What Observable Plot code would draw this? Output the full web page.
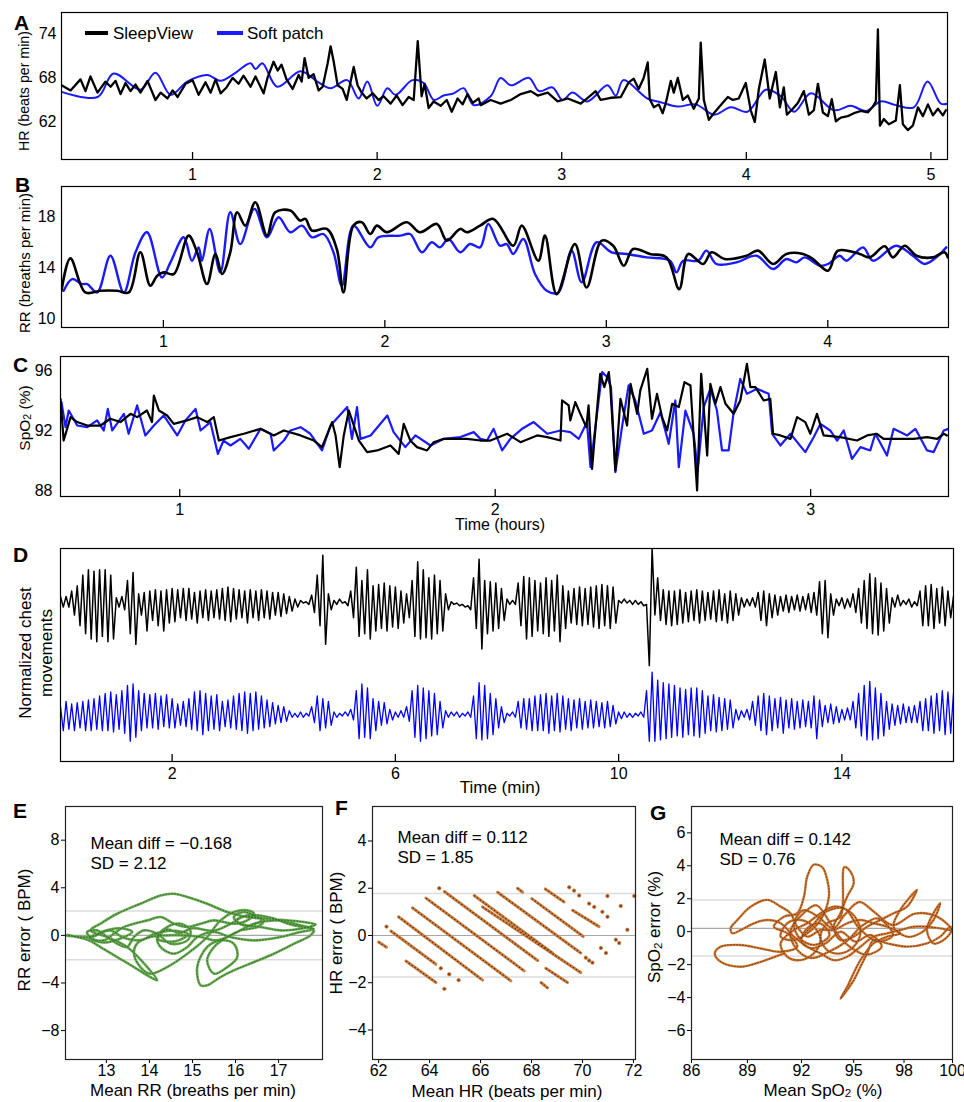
<!DOCTYPE html>
<html><head><meta charset="utf-8">
<script src="https://cdn.jsdelivr.net/npm/d3@7"></script>
<script src="https://cdn.jsdelivr.net/npm/@observablehq/plot@0.6"></script>
<style>
body{margin:0;background:#fff;font-family:"Liberation Sans",Arial,Helvetica,sans-serif;color:#000;}
#root{position:relative;width:964px;height:1102px;overflow:hidden;background:#fff;}
.pn{position:absolute;}
.t{position:absolute;white-space:nowrap;line-height:1;}
.rot{position:absolute;white-space:nowrap;line-height:1.25;text-align:center;transform:translate(-50%,-50%) rotate(-90deg);}
.ctr{position:absolute;white-space:nowrap;line-height:1;transform:translate(-50%,-50%);}
.sw{position:absolute;height:4px;}
.sub{font-size:0.68em;vertical-align:-0.1em;}
</style></head><body><div id="root"></div>
<script>
// ---------------- DATA ----------------
// Panel A: heart rate (hours, beats per min)
const hrSleepView = [[0.290,67.0],[0.339,66.3],[0.393,67.8],[0.420,66.2],[0.447,68.2],[0.485,66.0],[0.528,67.5],[0.556,66.8],[0.583,67.6],[0.610,65.8],[0.637,67.3],[0.664,66.2],[0.691,67.1],[0.718,66.0],[0.756,67.6],[0.799,65.0],[0.827,66.0],[0.864,65.2],[0.892,66.3],[0.919,65.4],[0.962,67.2],[1.000,67.7],[1.033,65.7],[1.070,67.4],[1.098,66.0],[1.125,67.8],[1.152,65.9],[1.184,66.7],[1.217,68.0],[1.249,67.2],[1.276,68.3],[1.314,66.8],[1.341,68.2],[1.385,65.9],[1.406,68.0],[1.439,70.2],[1.461,69.0],[1.482,69.8],[1.509,67.8],[1.542,66.5],[1.575,68.4],[1.591,67.5],[1.607,70.7],[1.629,68.0],[1.656,68.5],[1.683,66.3],[1.705,66.8],[1.732,70.0],[1.748,72.3],[1.764,70.3],[1.786,67.0],[1.813,66.5],[1.835,65.0],[1.873,69.5],[1.894,67.0],[1.916,66.0],[1.943,65.2],[1.976,65.9],[2.008,65.0],[2.035,65.5],[2.073,64.5],[2.106,65.6],[2.138,64.3],[2.171,65.4],[2.198,65.0],[2.220,73.0],[2.241,65.5],[2.257,67.2],[2.279,63.9],[2.306,64.8],[2.344,64.2],[2.377,65.0],[2.404,63.4],[2.436,65.2],[2.463,64.4],[2.490,65.8],[2.518,64.6],[2.550,65.2],[2.561,64.3],[2.615,65.0],[2.669,64.5],[2.724,65.0],[2.778,65.8],[2.832,66.2],[2.870,65.6],[2.924,66.0],[2.978,64.8],[3.033,65.2],[3.103,64.5],[3.141,65.3],[3.184,66.2],[3.211,65.0],[3.266,65.3],[3.320,65.4],[3.363,67.4],[3.390,67.9],[3.417,66.5],[3.444,68.0],[3.466,70.1],[3.477,65.1],[3.499,64.0],[3.526,64.4],[3.547,63.2],[3.564,64.6],[3.591,67.6],[3.607,66.0],[3.629,68.0],[3.656,65.0],[3.683,65.6],[3.715,63.8],[3.743,65.2],[3.753,72.8],[3.770,65.0],[3.797,62.3],[3.824,63.2],[3.862,64.3],[3.900,65.4],[3.927,65.0],[3.959,65.2],[3.997,67.3],[4.024,63.6],[4.046,62.0],[4.068,66.5],[4.100,70.5],[4.127,65.2],[4.160,68.8],[4.182,64.0],[4.203,66.7],[4.220,63.0],[4.252,63.8],[4.279,64.6],[4.312,66.2],[4.339,63.0],[4.366,63.6],[4.388,67.2],[4.415,63.3],[4.442,62.8],[4.463,65.1],[4.485,62.1],[4.512,62.6],[4.550,62.8],[4.583,63.2],[4.621,63.5],[4.658,63.3],[4.686,64.1],[4.702,64.8],[4.713,74.6],[4.724,61.5],[4.745,62.4],[4.772,61.7],[4.810,62.2],[4.832,67.0],[4.848,61.7],[4.875,60.9],[4.902,61.5],[4.930,64.0],[4.957,62.8],[4.984,64.4],[5.011,62.9],[5.038,63.8],[5.065,62.9],[5.081,63.6]];
const hrSoftPatch = [[0.290,66.1],[0.486,65.4],[0.572,68.6],[0.718,66.4],[0.799,68.7],[0.881,65.7],[0.971,67.5],[1.080,68.4],[1.152,67.6],[1.222,68.5],[1.314,70.0],[1.341,69.2],[1.378,70.0],[1.459,66.8],[1.585,68.9],[1.676,67.5],[1.748,66.6],[1.838,67.7],[1.900,65.2],[1.947,67.5],[2.001,64.2],[2.055,66.6],[2.100,65.7],[2.191,67.7],[2.252,67.3],[2.308,65.0],[2.360,65.6],[2.415,65.9],[2.469,66.6],[2.523,64.3],[2.615,65.5],[2.669,68.0],[2.724,67.0],[2.823,68.0],[2.877,66.2],[2.950,66.7],[3.004,65.0],[3.058,66.0],[3.139,64.8],[3.248,67.0],[3.293,65.6],[3.334,67.7],[3.464,65.2],[3.536,64.7],[3.627,64.1],[3.726,64.4],[3.825,63.0],[3.916,64.0],[4.006,63.4],[4.106,66.4],[4.187,65.5],[4.259,63.4],[4.350,65.9],[4.476,63.6],[4.566,64.2],[4.648,63.5],[4.729,64.8],[4.810,64.3],[4.908,64.0],[4.982,67.5],[5.054,64.5],[5.092,64.5]];
const hrTicksX = [1,2,3,4,5];
const hrTicksY = [62,68,74];

// Panel B: respiration rate (hours, breaths per min)
const rrSleepView = [[0.540,12.21],[0.580,14.76],[0.648,12.08],[0.716,12.21],[0.791,12.21],[0.844,12.08],[0.896,15.24],[0.941,12.61],[0.972,13.39],[1.001,13.66],[1.047,13.53],[1.114,16.55],[1.152,15.24],[1.197,12.74],[1.235,15.11],[1.265,13.53],[1.302,15.24],[1.333,18.39],[1.370,17.34],[1.415,19.18],[1.468,16.55],[1.505,18.39],[1.573,18.53],[1.618,17.74],[1.641,17.87],[1.671,16.95],[1.738,17.08],[1.783,15.5],[1.813,12.08],[1.858,17.34],[1.896,17.61],[1.934,16.68],[1.964,17.34],[2.009,16.82],[2.099,17.61],[2.159,16.82],[2.235,17.47],[2.280,16.16],[2.340,17.08],[2.370,16.82],[2.430,17.34],[2.490,17.87],[2.580,15.76],[2.618,17.34],[2.693,14.58],[2.723,16.55],[2.776,11.95],[2.858,15.89],[2.911,12.47],[2.979,16.16],[3.031,15.76],[3.079,14.18],[3.121,15.5],[3.197,15.11],[3.272,14.84],[3.329,12.34],[3.370,15.11],[3.437,14.32],[3.475,15.24],[3.535,14.71],[3.633,14.97],[3.685,15.37],[3.753,14.32],[3.813,15.11],[3.888,15.11],[3.933,14.71],[4.001,13.79],[4.046,15.37],[4.144,15.11],[4.189,14.84],[4.257,15.71],[4.294,14.84],[4.347,15.76],[4.400,14.97],[4.475,14.84],[4.527,15.24],[4.542,14.84]];
const rrSoftPatch = [[0.550,12.21],[0.588,13.13],[0.633,12.74],[0.656,12.74],[0.701,12.08],[0.761,14.97],[0.821,12.08],[0.874,15.24],[0.926,16.82],[0.994,13.26],[1.032,14.45],[1.092,16.42],[1.129,14.58],[1.159,15.63],[1.174,14.58],[1.209,17.08],[1.257,13.66],[1.302,18.39],[1.347,15.89],[1.411,18.66],[1.468,16.42],[1.520,18.0],[1.573,16.82],[1.626,17.34],[1.671,16.42],[1.723,16.68],[1.768,15.24],[1.806,12.61],[1.858,17.34],[1.934,15.63],[1.971,16.42],[2.069,16.55],[2.114,16.68],[2.167,15.24],[2.212,16.03],[2.249,15.63],[2.287,16.29],[2.340,15.24],[2.385,15.89],[2.430,15.63],[2.467,17.47],[2.520,15.76],[2.550,15.89],[2.580,15.11],[2.625,16.29],[2.678,13.53],[2.731,12.21],[2.783,12.08],[2.843,15.37],[2.889,12.87],[2.956,16.03],[3.024,15.24],[3.092,15.11],[3.182,14.84],[3.287,14.58],[3.317,13.66],[3.347,14.58],[3.415,14.58],[3.452,15.37],[3.497,14.32],[3.588,14.45],[3.678,14.97],[3.753,13.92],[3.813,14.71],[3.858,14.45],[3.896,14.84],[3.964,14.18],[4.001,14.32],[4.054,14.97],[4.084,14.58],[4.159,15.63],[4.204,14.58],[4.309,15.76],[4.384,14.97],[4.437,14.32],[4.490,14.84],[4.535,15.63]];
const rrTicksX = [1,2,3,4];
const rrTicksY = [10,14,18];

// Panel C: SpO2 (hours, %)
const spoSleepView = [[0.622,94.11],[0.632,91.33],[0.654,92.89],[0.675,92.56],[0.707,92.33],[0.749,92.33],[0.780,92.78],[0.812,92.56],[0.844,93.11],[0.865,92.89],[0.896,93.33],[0.912,92.56],[0.918,94.33],[0.934,93.33],[0.960,93.0],[0.981,92.44],[1.023,92.67],[1.055,92.89],[1.087,92.56],[1.108,92.89],[1.124,91.33],[1.161,91.56],[1.203,91.78],[1.256,92.11],[1.298,91.67],[1.330,92.0],[1.383,91.67],[1.425,91.33],[1.451,90.89],[1.483,92.56],[1.494,91.67],[1.507,89.56],[1.520,91.67],[1.536,93.33],[1.552,92.33],[1.568,91.33],[1.594,90.56],[1.626,90.67],[1.668,91.0],[1.694,90.44],[1.710,92.44],[1.731,91.33],[1.752,90.89],[1.784,90.67],[1.805,91.22],[1.837,91.44],[1.869,91.44],[1.911,91.44],[1.953,91.33],[1.985,91.33],[2.038,91.78],[2.080,91.22],[2.133,91.67],[2.165,91.56],[2.207,91.33],[2.212,94.0],[2.233,93.67],[2.238,92.67],[2.254,93.89],[2.270,93.11],[2.289,92.22],[2.296,93.67],[2.307,89.44],[2.323,93.44],[2.333,95.78],[2.346,94.89],[2.360,95.89],[2.365,94.89],[2.381,89.33],[2.397,94.11],[2.418,92.33],[2.429,95.11],[2.450,93.11],[2.460,94.67],[2.482,96.11],[2.497,92.78],[2.513,94.44],[2.529,92.89],[2.545,92.0],[2.561,93.78],[2.582,93.56],[2.600,95.22],[2.619,95.0],[2.640,88.0],[2.653,95.78],[2.672,90.33],[2.682,95.11],[2.698,93.78],[2.714,94.89],[2.730,93.78],[2.756,93.11],[2.777,94.0],[2.798,96.44],[2.809,94.89],[2.825,94.89],[2.851,94.0],[2.872,94.11],[2.881,91.78],[2.904,91.67],[2.936,91.44],[2.957,92.89],[2.983,92.56],[2.999,91.78],[3.020,93.11],[3.041,91.67],[3.094,91.56],[3.147,91.33],[3.179,91.67],[3.210,91.78],[3.231,91.44],[3.274,91.44],[3.327,91.44],[3.369,91.56],[3.401,91.44],[3.422,91.78],[3.432,91.67]];
const spoSoftPatch = [[0.625,93.89],[0.638,92.22],[0.648,93.33],[0.675,92.33],[0.707,92.22],[0.738,92.67],[0.759,92.0],[0.772,93.44],[0.786,92.0],[0.823,93.11],[0.838,91.78],[0.865,93.67],[0.891,91.67],[0.918,92.33],[0.949,93.0],[0.992,91.67],[1.018,92.67],[1.050,93.44],[1.066,92.0],[1.097,92.56],[1.121,90.44],[1.139,91.33],[1.161,91.0],[1.192,91.44],[1.219,90.78],[1.256,92.11],[1.288,91.78],[1.298,90.67],[1.330,91.33],[1.351,92.0],[1.383,92.22],[1.414,91.78],[1.451,90.67],[1.478,92.33],[1.531,93.56],[1.546,91.44],[1.562,93.56],[1.573,91.44],[1.605,91.67],[1.658,93.0],[1.678,91.89],[1.715,90.89],[1.747,91.67],[1.795,91.0],[1.837,91.44],[1.890,91.56],[1.932,91.89],[1.953,91.44],[1.974,91.33],[1.995,92.11],[2.022,90.67],[2.048,91.44],[2.085,92.11],[2.122,92.56],[2.165,91.78],[2.207,92.0],[2.238,91.89],[2.265,91.44],[2.291,92.56],[2.302,89.56],[2.339,95.89],[2.355,95.56],[2.367,94.89],[2.381,89.22],[2.402,92.22],[2.423,95.0],[2.444,94.0],[2.471,91.78],[2.497,92.0],[2.524,93.22],[2.550,91.11],[2.571,94.0],[2.582,89.56],[2.603,93.33],[2.629,91.78],[2.642,89.33],[2.661,93.56],[2.682,94.78],[2.703,93.33],[2.719,90.67],[2.740,90.67],[2.756,93.22],[2.777,95.44],[2.798,94.44],[2.830,94.78],[2.867,94.44],[2.878,91.78],[2.904,91.0],[2.936,91.78],[2.983,90.56],[3.010,91.56],[3.031,92.44],[3.062,92.0],[3.084,91.33],[3.105,92.0],[3.131,90.11],[3.158,90.89],[3.189,90.67],[3.205,91.78],[3.242,90.33],[3.263,92.11],[3.306,91.67],[3.332,92.11],[3.369,90.67],[3.390,90.56],[3.422,92.0],[3.437,92.11]];
const spoTicksX = [1,2,3];
const spoTicksY = [88,92,96];

// Panel D: chest movement envelopes per 0.1 min [time (min), peak, trough]
const chestSleepView = [[0,0.2,-0.2],[0.1,0.2,-0.2],[0.2,0.4,-0.5],[0.3,0.6,-0.9],[0.4,1.0,-1.2],[0.5,1.2,-1.4],[0.6,1.15,-1.5],[0.7,1.2,-1.3],[0.8,1.2,-1.5],[0.9,1.0,-1.4],[1.0,0.15,-0.2],[1.1,0.2,-0.3],[1.2,0.8,-1.2],[1.3,1.1,-1.6],[1.4,0.3,-0.5],[1.5,0.35,-1.1],[1.6,0.4,-0.7],[1.7,0.45,-0.9],[1.8,0.4,-1.1],[1.9,0.45,-0.8],[2.0,0.5,-0.75],[2.1,0.45,-0.6],[2.2,0.5,-0.7],[2.3,0.5,-0.65],[2.4,0.35,-0.8],[2.5,0.4,-0.6],[2.6,0.45,-0.7],[2.7,0.4,-0.6],[2.8,0.45,-0.65],[2.9,0.5,-0.7],[3.0,0.55,-0.75],[3.1,0.5,-0.65],[3.2,0.45,-0.6],[3.3,0.4,-0.8],[3.4,0.45,-0.6],[3.5,0.4,-0.7],[3.6,0.45,-0.6],[3.7,0.4,-0.65],[3.8,0.35,-0.5],[3.9,0.35,-0.55],[4.0,0.3,-0.45],[4.1,0.2,-0.35],[4.2,0.1,-0.2],[4.3,0.05,-0.05],[4.4,0.0,-0.1],[4.5,0.25,-0.4],[4.6,1.0,-0.9],[4.7,1.75,-1.6],[4.8,0.3,-0.3],[4.9,0.05,-0.1],[5.0,0.1,-0.05],[5.1,0.0,-0.15],[5.2,0.4,-0.6],[5.3,1.3,-1.3],[5.4,0.8,-1.2],[5.5,1.2,-1.4],[5.6,0.6,-1.1],[5.7,0.65,-1.0],[5.8,0.7,-1.1],[5.9,0.6,-0.95],[6.0,0.55,-1.0],[6.1,0.4,-0.8],[6.2,0.3,-0.6],[6.3,0.8,-1.3],[6.4,1.5,-1.4],[6.5,1.2,-1.35],[6.6,0.9,-1.4],[6.7,1.0,-1.2],[6.8,0.8,-1.1],[6.9,0.3,-0.3],[7.0,0.0,-0.1],[7.1,-0.05,-0.15],[7.2,-0.1,-0.2],[7.3,-0.15,-0.3],[7.4,0.9,-1.0],[7.5,1.6,-1.77],[7.6,0.8,-1.2],[7.7,0.75,-1.1],[7.8,0.7,-1.0],[7.9,0.5,-0.7],[8.0,0.1,-0.1],[8.1,0.05,-0.1],[8.2,0.7,-0.9],[8.3,0.95,-1.4],[8.4,0.9,-1.3],[8.5,0.8,-1.1],[8.6,0.7,-1.2],[8.7,0.9,-1.3],[8.8,0.8,-1.1],[8.9,1.0,-1.5],[9.0,0.6,-1.0],[9.1,0.4,-0.8],[9.2,0.5,-0.85],[9.3,0.55,-0.9],[9.4,0.5,-0.85],[9.5,0.55,-0.95],[9.6,0.6,-1.0],[9.7,0.65,-0.9],[9.8,0.6,-1.0],[9.9,0.55,-0.8],[10.0,0.05,-0.05],[10.1,0.1,-0.05],[10.2,0.05,-0.1],[10.3,0.05,-0.1],[10.4,0.0,-0.15],[10.5,-0.1,-2.4],[10.6,2.0,-0.5],[10.7,0.9,-0.7],[10.8,0.45,-0.85],[10.9,0.4,-0.9],[11.0,0.4,-0.85],[11.1,0.45,-0.8],[11.2,0.35,-0.75],[11.3,0.4,-0.7],[11.4,0.45,-0.8],[11.5,0.4,-0.7],[11.6,0.35,-0.65],[11.7,0.4,-0.75],[11.8,0.45,-0.7],[11.9,0.3,-0.8],[12.0,0.4,-0.7],[12.1,0.3,-0.5],[12.2,0.15,-0.2],[12.3,0.1,-0.15],[12.4,0.15,-0.2],[12.5,0.35,-0.7],[12.6,0.4,-0.9],[12.7,0.3,-0.6],[12.8,0.25,-0.5],[12.9,0.2,-0.35],[13.0,0.25,-0.4],[13.1,0.2,-0.3],[13.2,0.25,-0.35],[13.3,0.2,-0.3],[13.4,0.3,-0.4],[13.5,0.35,-0.5],[13.6,0.75,-1.2],[13.7,0.8,-1.35],[13.8,0.3,-0.5],[13.9,0.1,-0.15],[14.0,0.15,-0.25],[14.1,0.1,-0.2],[14.2,0.3,-0.4],[14.3,0.5,-0.8],[14.4,0.8,-1.0],[14.5,1.05,-1.2],[14.6,0.9,-1.25],[14.7,0.7,-1.1],[14.8,0.5,-0.8],[14.9,0.15,-0.2],[15.0,0.25,-0.15],[15.1,0.05,-0.1],[15.2,0.1,-0.2],[15.3,0.0,-0.15],[15.4,0.4,-0.9],[15.5,0.6,-0.9],[15.6,0.65,-1.0],[15.7,0.5,-0.8],[15.8,0.55,-0.9],[15.9,0.4,-0.6],[16.0,0.2,-0.3]];
const chestSoftPatch = [[0,0.3,-0.6],[0.1,0.5,-0.55],[0.2,0.4,-0.6],[0.3,0.45,-0.5],[0.4,0.5,-0.6],[0.5,0.55,-0.6],[0.6,0.6,-0.55],[0.7,0.7,-0.6],[0.8,0.8,-0.6],[0.9,0.85,-0.65],[1.0,0.75,-0.55],[1.1,0.9,-0.7],[1.2,1.1,-1.0],[1.3,1.15,-0.85],[1.4,0.9,-0.6],[1.5,0.8,-0.5],[1.6,0.75,-0.5],[1.7,0.8,-0.55],[1.8,0.7,-0.45],[1.9,0.75,-0.5],[2.0,0.6,-0.5],[2.1,0.4,-0.4],[2.2,0.5,-0.45],[2.3,0.6,-0.55],[2.4,0.85,-0.6],[2.5,0.9,-0.75],[2.6,0.8,-0.6],[2.7,0.7,-0.55],[2.8,0.75,-0.6],[2.9,0.5,-0.45],[3.0,0.55,-0.5],[3.1,0.7,-0.55],[3.2,0.8,-0.6],[3.3,0.85,-0.7],[3.4,0.8,-0.6],[3.5,0.85,-0.55],[3.6,0.7,-0.5],[3.7,0.55,-0.45],[3.8,0.45,-0.35],[3.9,0.35,-0.3],[4.0,0.3,-0.25],[4.1,0.15,-0.1],[4.2,0.05,-0.1],[4.3,0.1,-0.1],[4.4,0.05,-0.05],[4.5,0.3,-0.3],[4.6,0.7,-0.6],[4.7,0.6,-0.5],[4.8,0.5,-0.4],[4.9,0.1,-0.1],[5.0,0.05,-0.05],[5.1,0.1,-0.05],[5.2,0.2,-0.2],[5.3,0.9,-0.9],[5.4,1.15,-0.85],[5.5,1.0,-0.9],[5.6,0.6,-0.6],[5.7,0.5,-0.4],[5.8,0.45,-0.35],[5.9,0.2,-0.2],[6.0,0.1,-0.1],[6.1,0.15,-0.1],[6.2,0.3,-0.25],[6.3,0.9,-0.85],[6.4,1.1,-1.0],[6.5,1.0,-0.9],[6.6,0.9,-0.8],[6.7,0.8,-0.75],[6.8,0.5,-0.5],[6.9,0.15,-0.1],[7.0,0.1,-0.05],[7.1,0.1,-0.1],[7.2,0.05,-0.05],[7.3,0.1,-0.1],[7.4,0.7,-0.9],[7.5,1.2,-0.95],[7.6,1.1,-0.9],[7.7,0.8,-0.75],[7.8,0.6,-0.5],[7.9,0.3,-0.3],[8.0,0.05,-0.05],[8.1,0.1,-0.1],[8.2,0.5,-0.5],[8.3,0.6,-0.55],[8.4,0.6,-0.6],[8.5,0.7,-0.6],[8.6,0.75,-0.6],[8.7,0.8,-0.7],[8.8,0.7,-0.6],[8.9,0.8,-0.65],[9.0,0.7,-0.55],[9.1,0.6,-0.6],[9.2,0.55,-0.5],[9.3,0.6,-0.55],[9.4,0.5,-0.5],[9.5,0.55,-0.5],[9.6,0.5,-0.45],[9.7,0.45,-0.5],[9.8,0.5,-0.45],[9.9,0.35,-0.35],[10.0,0.1,-0.15],[10.1,0.1,-0.1],[10.2,0.05,-0.1],[10.3,0.05,-0.05],[10.4,0.1,-0.1],[10.5,0.9,-1.0],[10.6,1.6,-1.0],[10.7,1.3,-0.95],[10.8,1.2,-0.9],[10.9,1.15,-0.85],[11.0,1.1,-0.8],[11.1,1.0,-0.85],[11.2,0.95,-0.75],[11.3,1.0,-0.8],[11.4,1.0,-0.85],[11.5,0.9,-0.7],[11.6,0.7,-0.6],[11.7,0.75,-0.65],[11.8,0.65,-0.6],[11.9,0.6,-0.55],[12.0,0.55,-0.5],[12.1,0.2,-0.2],[12.2,0.15,-0.1],[12.3,0.2,-0.2],[12.4,0.5,-0.4],[12.5,0.7,-0.6],[12.6,0.8,-0.75],[12.7,0.7,-0.6],[12.8,0.6,-0.5],[12.9,0.65,-0.7],[13.0,0.55,-0.5],[13.1,0.6,-0.55],[13.2,0.5,-0.5],[13.3,0.55,-0.45],[13.4,0.5,-0.5],[13.5,0.7,-0.9],[13.6,0.55,-0.45],[13.7,0.35,-0.3],[13.8,0.4,-0.35],[13.9,0.3,-0.3],[14.0,0.2,-0.2],[14.1,0.25,-0.2],[14.2,0.5,-0.5],[14.3,0.8,-0.8],[14.4,1.1,-0.95],[14.5,1.25,-0.95],[14.6,1.0,-0.9],[14.7,0.8,-0.8],[14.8,0.5,-0.55],[14.9,0.4,-0.4],[15.0,0.35,-0.35],[15.1,0.4,-0.3],[15.2,0.3,-0.3],[15.3,0.35,-0.3],[15.4,0.5,-0.6],[15.5,0.6,-0.6],[15.6,0.7,-0.7],[15.7,0.8,-0.6],[15.8,0.9,-0.75],[15.9,0.85,-0.7],[16.0,0.8,-0.6]];
const chestTicksX = [2,6,10,14];

// Panel E: Bland-Altman RR (mean, error) trace
const baRR = [[12.05,0],[12.32,-0.14],[12.59,-0.42],[12.86,-0.98],[13.25,-1.82],[13.64,-2.66],[13.95,-3.36],[14.18,-3.78],[13.95,-2.66],[13.48,-0.98],[13.02,-0.14],[12.63,0.42],[12.86,0.98],[13.25,1.82],[13.79,2.66],[14.26,3.36],[14.57,3.5],[14.88,3.22],[15.34,2.66],[15.81,1.96],[16.27,1.54],[16.74,1.40],[17.20,1.26],[17.59,1.12],[17.86,0.92],[17.51,0.56],[17.05,0.42],[16.58,0.70],[16.12,0.98],[15.96,1.54],[16.19,1.96],[16.43,1.68],[16.66,1.26],[16.50,0.70],[16.12,0.42],[15.81,-0.14],[15.50,-0.98],[15.34,-2.10],[15.50,-3.22],[15.81,-2.66],[16.04,-1.82],[15.96,-0.70],[15.65,-0.42],[15.34,-0.98],[15.11,-2.66],[15.19,-4.20],[15.34,-4.20],[15.65,-3.50],[15.96,-2.94],[16.43,-2.24],[16.89,-1.54],[17.36,-0.70],[17.74,0],[17.82,0.42],[17.51,0.28],[17.05,-0.14],[16.43,-0.42],[15.88,-0.14],[15.50,0.28],[15.11,-0.14],[14.88,-0.98],[14.57,-1.54],[14.26,-0.98],[14.18,-0.14],[14.41,0.70],[14.72,0.98],[14.95,0.42],[14.88,-0.42],[14.49,-0.70],[14.18,0.14],[13.87,0.42],[13.64,-0.14],[13.48,-0.98],[13.25,-0.70],[13.02,-0.14],[12.78,0.42],[12.55,0.28],[12.67,-0.28],[12.94,-0.42],[13.17,0.14],[13.40,0.70],[13.64,0.98],[13.95,1.26],[14.26,1.54],[14.57,0.98],[14.88,0.70],[15.19,0.98],[15.50,1.26],[15.96,0.98],[16.27,1.26],[16.43,1.82],[16.27,2.10],[15.96,1.96],[15.65,1.26],[15.34,-0.14],[14.88,-1.54],[14.41,-2.66],[14.02,-3.22],[13.79,-2.66],[13.64,-1.54],[13.71,-0.70],[14.02,-0.14],[14.41,0],[14.80,0],[15.19,-0.14],[15.57,-0.42],[15.96,0.14],[16.43,0.98],[16.97,1.26],[17.51,0.84],[17.82,0.56],[17.3,0.9],[16.8,1.5],[16.3,1.7],[16.0,1.2],[16.3,0.8],[16.6,1.3],[16.2,1.6],[15.9,1.0],[15.5,0.4],[15.0,0.6],[14.7,0.2],[14.4,0.5],[14.2,-0.3],[14.6,-0.5],[14.9,0.1],[14.5,0.4],[14.1,0.1],[13.8,-0.4],[13.4,-0.2],[13.1,0.4],[12.8,0.1],[12.6,-0.2],[12.9,-0.6],[13.3,-0.3],[13.6,0.3],[13.3,0.6],[12.9,0.3],[12.7,-0.1],[12.3,-0.1],[12.1,0.05]];
const baRRLimits = [2.04, -2.04];
const baRRMean = [0];
const baRRText = "Mean diff = −0.168\nSD = 2.12";

// Panel F: Bland-Altman HR segments [x1,y1,x2,y2] and isolated points
const baHRSegments = [[62.00,-0.28,62.31,-0.50],[62.48,0.19,64.25,-1.22],[62.78,0.79,66.08,-1.89],[63.07,-1.08,64.25,-1.99],[63.33,1.17,67.19,-1.92],[63.86,1.58,67.71,-1.50],[64.58,1.86,68.24,-1.06],[65.75,1.69,68.82,-0.74],[66.08,1.21,69.93,-1.57],[66.67,1.83,69.93,-0.74],[67.45,2.00,67.65,1.83],[68.01,1.56,70.03,-0.04],[68.54,1.97,69.28,1.42],[68.56,-1.39,69.41,-1.99],[68.37,-1.99,68.63,-2.22],[69.61,1.07,70.65,0.375]];
const baHRPoints = [[62.31,0.375],[64.38,2.0],[64.44,-1.39],[64.77,-1.64],[65.14,-1.89],[64.58,-2.26],[69.48,2.04],[69.67,1.90],[69.87,1.69],[70.26,1.35],[70.46,1.21],[70.78,1.0],[70.98,0.79],[70.98,1.67],[71.50,1.25],[72.03,1.67],[71.76,0.24],[71.31,-0.18],[71.44,-0.32],[70.72,-0.53],[70.92,-0.74],[70.13,-0.94],[70.26,-1.06],[70.39,-1.15]];
const baHRLimits = [1.78, -1.76];
const baHRMean = [0];
const baHRText = "Mean diff = 0.112\nSD = 1.85";

// Panel G: Bland-Altman SpO2 trace
const baSpO2 = [[90.96,-1.32],[89.71,-1.83],[88.64,-2.13],[87.57,-1.83],[87.25,-1.32],[87.57,-0.91],[88.64,-0.81],[89.71,-1.02],[90.78,-1.22],[91.67,-0.91],[91.14,-0.10],[90.42,0.30],[90.96,0.91],[91.67,1.12],[92.03,2.13],[92.21,3.35],[92.56,4.07],[93.01,3.92],[93.28,3.15],[93.37,2.13],[92.92,0.71],[92.21,-0.10],[91.49,-0.51],[90.78,-0.30],[91.14,0.51],[91.85,0.71],[92.56,0.30],[92.92,-0.51],[92.56,-1.32],[91.85,-1.73],[91.14,-1.52],[90.78,-0.71],[91.49,0.10],[92.21,0.51],[92.92,1.12],[93.63,1.52],[94.35,1.32],[94.88,0.71],[95.06,-0.10],[94.70,-0.91],[93.99,-1.32],[93.28,-1.12],[92.92,-0.30],[93.28,0.51],[93.99,0.91],[94.20,3.92],[94.52,3.66],[94.70,2.95],[94.35,2.13],[93.99,1.12],[93.63,0.30],[93.99,-0.51],[94.70,-0.30],[95.42,0.30],[96.13,0.71],[96.84,1.12],[97.56,1.52],[98.09,2.54],[97.74,2.13],[97.20,1.32],[96.84,0.30],[97.56,-0.30],[98.27,-0.10],[98.98,0.71],[99.34,1.73],[98.98,1.12],[98.63,0.10],[98.98,-0.71],[99.52,-0.51],[99.96,0.10],[99.88,0.30],[99.34,-0.30],[98.63,-0.71],[97.56,-0.91],[96.49,-0.71],[95.77,-0.51],[95.42,-1.32],[95.06,-2.13],[94.70,-2.95],[93.99,-4.07],[94.35,-3.35],[95.06,-1.73],[95.77,-0.71],[96.49,-0.30],[97.20,-0.10],[96.49,0.30],[95.77,0.51],[95.06,0.71],[94.35,0.51],[93.63,0.10],[92.92,0.10],[92.21,-0.30],[91.67,0.30],[91.31,1.12],[90.78,1.52],[90.07,1.93],[89.17,1.52],[88.46,0.71],[88.10,0.20],[88.19,-0.10],[88.64,0.10],[89.35,0.51],[90.07,0.71],[90.78,0.51],[91.49,-0.30],[92.21,-0.91],[92.92,-1.32],[93.63,-1.73],[94.35,-1.52],[95.06,-0.91],[95.77,-0.30],[96.49,-0.10],[97.20,0.10],[97.91,0.30],[98.63,0.30],[99.34,0.20],[99.96,0.10],[99.2,0.9],[98.0,1.1],[96.8,0.4],[95.8,1.2],[95.0,1.8],[94.2,1.0],[93.6,0.2],[92.8,0.9],[92.0,1.3],[91.5,0.5],[91.8,-0.4],[92.6,-0.8],[93.4,-0.2],[92.9,0.5],[92.2,0.2],[91.9,-0.6],[92.4,-1.0],[93.2,-0.7],[94.0,0.0],[94.8,-0.6],[95.6,-0.2],[96.2,-0.9],[95.4,-1.4],[94.6,-1.0],[94.0,-0.4],[93.4,0.6],[92.7,1.6],[91.9,1.0],[91.3,0.0],[91.6,-1.0],[92.4,-1.6],[93.4,-1.2],[94.3,-0.6],[95.2,0.4],[96.0,0.8],[96.8,-0.2],[96.0,-0.6],[95.0,0.2],[94.2,1.4],[93.2,1.2],[92.5,0.4],[92.0,-0.2]];
const baSpO2Limits = [1.93, -1.48];
const baSpO2Mean = [0.2];
const baSpO2Text = "Mean diff = 0.142\nSD = 0.76";
const gTickPos = [86, 89, 91.9, 94.7, 97.4, 100];
const gTickLabels = ["86", "89", "92", "95", "98", "100"];

// ---------------- DRAWING ----------------
const FONT = '"Liberation Sans", Arial, Helvetica, sans-serif';
const BLUE = "#1a1aff";
const root = document.getElementById("root");
const minus = d => (d < 0 ? "−" + Math.abs(d) : String(d));

function place(node, left, top) {
  const d = document.createElement("div");
  d.className = "pn"; d.style.left = left + "px"; d.style.top = top + "px";
  d.appendChild(node); root.appendChild(d);
}
function addText(cls, htmlStr, left, top, size, bold) {
  const d = document.createElement("div");
  d.className = cls; d.innerHTML = htmlStr;
  d.style.left = left + "px"; d.style.top = top + "px";
  d.style.fontSize = size + "px";
  if (bold) d.style.fontWeight = "bold";
  root.appendChild(d);
}
const xy = {x: d => d[0], y: d => d[1]};

function seriesPanel(o) {
  const fh = o.height - o.mt - o.mb;
  return Plot.plot({
    width: o.width, height: o.height,
    marginLeft: o.ml, marginRight: o.mr, marginTop: o.mt, marginBottom: o.mb,
    style: {fontFamily: FONT, fontSize: "16px", color: "#000", background: "transparent", overflow: "visible"},
    x: {domain: o.xd, ticks: o.xt, tickSize: 0, tickPadding: o.xpad, label: null, tickFormat: d => String(d)},
    y: o.yt ? {domain: o.yd, ticks: o.yt, tickSize: 0, tickPadding: o.ypad, label: null, tickFormat: d => String(d)} : {domain: o.yd, axis: null},
    marks: [
      ...o.marks,
      Plot.tickX(o.xt, {x: d => d, insetTop: fh - 7, stroke: "#000", strokeWidth: 1.3}),
      Plot.frame({stroke: "#000", strokeWidth: 1.2})
    ]
  });
}

// Panel A
place(seriesPanel({
  width: 964, height: 180, ml: 61, mr: 17, mt: 12, mb: 21,
  xd: [0.29, 5.09], yd: [56.9, 76.9], xt: hrTicksX, yt: hrTicksY, xpad: 9, ypad: 5,
  marks: [
    Plot.line(hrSoftPatch, {...xy, stroke: BLUE, strokeWidth: 2, curve: "catmull-rom", clip: true}),
    Plot.line(hrSleepView, {...xy, stroke: "#000", strokeWidth: 2.3, clip: true})
  ]
}), 0, 0);

// Panel B
place(seriesPanel({
  width: 964, height: 175, ml: 61, mr: 16, mt: 10, mb: 24,
  xd: [0.54, 4.545], yd: [9.32, 20.42], xt: rrTicksX, yt: rrTicksY, xpad: 8, ypad: 6,
  marks: [
    Plot.line(rrSoftPatch, {...xy, stroke: BLUE, strokeWidth: 2.4, curve: "catmull-rom", clip: true}),
    Plot.line(rrSleepView, {...xy, stroke: "#000", strokeWidth: 2.6, curve: "catmull-rom", clip: true})
  ]
}), 0, 176);

// Panel C
place(seriesPanel({
  width: 964, height: 174, ml: 60, mr: 16, mt: 10, mb: 24,
  xd: [0.622, 3.437], yd: [87.6, 96.93], xt: spoTicksX, yt: spoTicksY, xpad: 7, ypad: 8,
  marks: [
    Plot.line(spoSoftPatch, {...xy, stroke: BLUE, strokeWidth: 2.2, clip: true}),
    Plot.line(spoSleepView, {...xy, stroke: "#000", strokeWidth: 2.2, clip: true})
  ]
}), 0, 346);

// Panel D
const zig = (env, off) => env.flatMap(([t, hi, lo]) => [[t, hi + off], [t + 0.05, lo + off]]);
place(seriesPanel({
  width: 964, height: 240, ml: 60, mr: 11, mt: 10, mb: 17,
  xd: [0, 16], yd: [-4, 4], xt: chestTicksX, yt: null, xpad: 6,
  marks: [
    Plot.line(zig(chestSleepView, 2.0), {...xy, stroke: "#000", strokeWidth: 1.5, clip: true}),
    Plot.line(zig(chestSoftPatch, -2.24), {...xy, stroke: "#0000ff", strokeWidth: 1.3, clip: true})
  ]
}), 0, 538);

// Bland-Altman panels
function baPanel(o) {
  return Plot.plot({
    width: o.width, height: 290, marginLeft: o.ml, marginRight: o.mr, marginTop: 10, marginBottom: 27,
    style: {fontFamily: FONT, fontSize: "16px", color: "#000", background: "transparent", overflow: "visible"},
    x: {domain: o.xd, ticks: o.xt, tickSize: 4, tickPadding: 1, label: null, tickFormat: o.xf || (d => String(d))},
    y: {domain: o.yd, ticks: o.yt, tickSize: 4, tickPadding: 2, label: null, tickFormat: minus},
    marks: [
      Plot.ruleY(o.limits, {stroke: "#dcdcdc", strokeWidth: 1.5}),
      Plot.ruleY(o.mean, {stroke: "#a8a8a8", strokeWidth: 1.2}),
      ...o.marks,
      Plot.text([o.text], {text: d => d, frameAnchor: "top-left", dx: o.tdx, dy: o.tdy, lineAnchor: "top", textAnchor: "start", fontSize: 17, lineHeight: 1.18, fill: "#000"}),
      Plot.frame({stroke: "#222", strokeWidth: 1.2})
    ]
  });
}

place(baPanel({
  width: 330, ml: 65, mr: 8, xd: [12.05, 18.02], yd: [-10.43, 10.83],
  xt: [13,14,15,16,17], yt: [-8,-4,0,4,8], limits: baRRLimits, mean: baRRMean,
  text: baRRText, tdx: 25, tdy: 28,
  marks: [
    Plot.line(baRR, {...xy, stroke: "#6aab55", strokeWidth: 2.6, curve: "catmull-rom", clip: true}),
    Plot.line(baRR, {...xy, stroke: "#2f6e22", strokeWidth: 1, strokeDasharray: "1 2", curve: "catmull-rom", clip: true})
  ]
}), 0, 796);

place(baPanel({
  width: 330, ml: 62, mr: 5, xd: [61.76, 72.08], yd: [-5.25, 5.46],
  xt: [62,64,66,68,70,72], yt: [-4,-2,0,2,4], limits: baHRLimits, mean: baHRMean,
  text: baHRText, tdx: 25, tdy: 22,
  marks: [
    Plot.link(baHRSegments, {x1: d => d[0], y1: d => d[1], x2: d => d[2], y2: d => d[3], stroke: "#c98040", strokeWidth: 3, strokeLinecap: "round"}),
    Plot.link(baHRSegments, {x1: d => d[0], y1: d => d[1], x2: d => d[2], y2: d => d[3], stroke: "#6b2a0c", strokeWidth: 1.2, strokeDasharray: "1.5 2"}),
    Plot.dot(baHRPoints, {...xy, r: 1.7, fill: "#8a4015", stroke: "#c98040", strokeWidth: 0.8})
  ]
}), 310, 796);

const gLab = new Map(gTickPos.map((p, i) => [p, gTickLabels[i]]));
place(baPanel({
  width: 334, ml: 61, mr: 12, xd: [86, 100], yd: [-7.76, 7.6],
  xt: gTickPos, xf: d => gLab.get(d), yt: [-6,-4,-2,0,2,4,6], limits: baSpO2Limits, mean: baSpO2Mean,
  text: baSpO2Text, tdx: 28, tdy: 24,
  marks: [
    Plot.line(baSpO2, {...xy, stroke: "#cf7b35", strokeWidth: 2.4, curve: "catmull-rom", clip: true}),
    Plot.line(baSpO2, {...xy, stroke: "#7a3510", strokeWidth: 1, strokeDasharray: "1 2", curve: "catmull-rom", clip: true})
  ]
}), 630, 796);

// ---------------- TEXT ----------------
// panel letters
addText("t", "A", 14, 12, 21, true);
addText("t", "B", 15, 174, 21, true);
addText("t", "C", 13, 354, 21, true);
addText("t", "D", 13, 544, 21, true);
addText("t", "E", 13, 800, 21, true);
addText("t", "F", 335, 797, 21, true);
addText("t", "G", 650, 802, 21, true);

// legend (panel A)
const sw1 = document.createElement("div"); sw1.className = "sw";
Object.assign(sw1.style, {left: "85px", top: "31px", width: "23px", background: "#000"}); root.appendChild(sw1);
const sw2 = document.createElement("div"); sw2.className = "sw";
Object.assign(sw2.style, {left: "217px", top: "31px", width: "26px", background: BLUE}); root.appendChild(sw2);
addText("t", "SleepView", 113, 25, 17);
addText("t", "Soft patch", 247, 25, 17);

// y-axis titles
const SUB2 = '<span class="sub">2</span>';
addText("rot", "HR (beats per min)", 25, 91, 14.2);
addText("rot", "RR (breaths per min)", 25, 263, 15);
addText("rot", "SpO" + SUB2 + " (%)", 25, 418, 15.5);
addText("rot", "Normalized chest<br>movements", 36, 653, 17);
addText("rot", "RR error ( BPM)", 25, 930, 17);
addText("rot", "HR error ( BPM)", 337, 933, 17);
addText("rot", "SpO" + SUB2 + " error (%)", 655, 927, 17);

// x-axis titles
addText("ctr", "Time (hours)", 500, 525, 16);
addText("ctr", "Time (min)", 500, 787, 17);
addText("ctr", "Mean RR (breaths per min)", 193, 1090, 17);
addText("ctr", "Mean HR (beats per min)", 507, 1091, 17);
addText("ctr", "Mean SpO" + SUB2 + " (%)", 823, 1091, 17);
</script></body></html>
